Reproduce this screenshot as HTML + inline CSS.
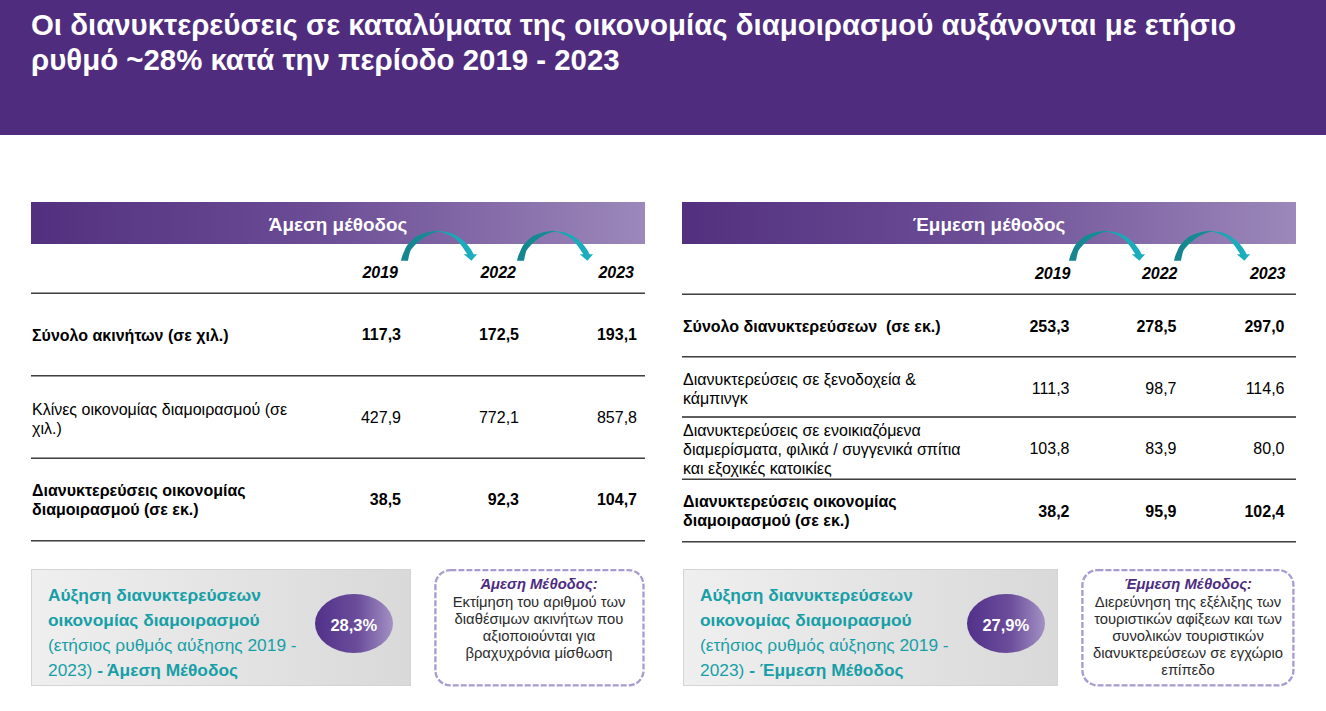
<!DOCTYPE html>
<html><head><meta charset="utf-8">
<style>
*{margin:0;padding:0;box-sizing:border-box}
html,body{width:1326px;height:711px;overflow:hidden;background:#fff}
body{position:relative;font-family:"Liberation Sans",sans-serif;color:#000}
.a{position:absolute;white-space:nowrap}
#hdr{position:absolute;left:0;top:0;width:1326px;height:135px;background:#502c7e}
.title{left:31px;color:#fff;font-weight:bold;font-size:29.4px;line-height:34.5px}
.bar{position:absolute;top:202px;height:42px;background:linear-gradient(to right,#52307f 0%,#6a4b94 45%,#9c88ba 100%)}
.bart{position:absolute;top:1.5px;width:100%;text-align:center;color:#fff;font-weight:bold;font-size:18.9px;line-height:42px}
.hr{position:absolute;height:2px;background:linear-gradient(#404040 50%,#9a9a9a 50%)}
.hu{background:linear-gradient(#9a9a9a 50%,#404040 50%)}
.hm{background:#5e5e5e}
.yr{font-weight:bold;font-style:italic;font-size:16px}
.t16{font-size:16px;line-height:19px}
.b{font-weight:bold}
.num{font-size:16px}
.gbox{position:absolute;top:569px;height:116.5px;background:linear-gradient(to right,#efefef,#d9d9d9);border:1px solid #d4d4d4}
.teal{color:#179fa7;font-size:17.33px;line-height:25px}
.ell{position:absolute;top:594px;width:78px;height:59px;border-radius:50%;background:linear-gradient(to right,#52318a,#6b4d9b 55%,#a391c4);color:#fff;font-weight:bold;font-size:16.5px;text-align:center;line-height:62px}
.dbox{position:absolute;top:569px;height:117px}
.dt{position:absolute;left:0;width:100%;text-align:center;font-size:14.8px;line-height:17px;color:#2b2b2b}
.dt .h{color:#4d2c80;font-weight:bold;font-style:italic;position:relative;top:-1px}
</style></head><body>
<div id="hdr"></div>
<div class="a title" style="top:8px">Οι διανυκτερεύσεις σε καταλύματα της οικονομίας διαμοιρασμού αυξάνονται με ετήσιο<br>ρυθμό ~28% κατά την περίοδο 2019 - 2023</div>

<!-- LEFT PANEL -->
<div class="bar" style="left:31px;width:614px"><div class="bart">Άμεση μέθοδος</div></div>

<div class="a yr" style="left:0;width:398px;text-align:right;top:264px">2019</div>
<div class="a yr" style="left:0;width:516px;text-align:right;top:264px">2022</div>
<div class="a yr" style="left:0;width:634px;text-align:right;top:264px">2023</div>
<div class="hr hu" style="left:31px;width:614px;top:292px"></div>

<div class="a t16 b" style="left:32px;top:326px">Σύνολο ακινήτων (σε χιλ.)</div>
<div class="a t16 b num" style="left:0;width:401px;text-align:right;top:325px">117,3</div>
<div class="a t16 b num" style="left:0;width:519px;text-align:right;top:325px">172,5</div>
<div class="a t16 b num" style="left:0;width:637px;text-align:right;top:325px">193,1</div>
<div class="hr" style="left:31px;width:614px;top:375px"></div>

<div class="a t16" style="left:32px;top:400px">Κλίνες οικονομίας διαμοιρασμού (σε<br>χιλ.)</div>
<div class="a t16 num" style="left:0;width:401px;text-align:right;top:408px">427,9</div>
<div class="a t16 num" style="left:0;width:519px;text-align:right;top:408px">772,1</div>
<div class="a t16 num" style="left:0;width:637px;text-align:right;top:408px">857,8</div>
<div class="hr hu" style="left:31px;width:614px;top:457px"></div>

<div class="a t16 b" style="left:32px;top:481px">Διανυκτερεύσεις οικονομίας<br>διαμοιρασμού (σε εκ.)</div>
<div class="a t16 b num" style="left:0;width:401px;text-align:right;top:489.5px">38,5</div>
<div class="a t16 b num" style="left:0;width:519px;text-align:right;top:489.5px">92,3</div>
<div class="a t16 b num" style="left:0;width:637px;text-align:right;top:489.5px">104,7</div>
<div class="hr" style="left:31px;width:614px;top:540px"></div>

<div class="gbox" style="left:31px;width:380px"></div>
<div class="a teal" style="left:48px;top:583px"><b>Αύξηση διανυκτερεύσεων<br>οικονομίας διαμοιρασμού</b><br>(ετήσιος ρυθμός αύξησης 2019 -<br>2023) <b>- Άμεση Μέθοδος</b></div>
<div class="ell" style="left:314.8px">28,3%</div>
<div class="dbox" style="left:434px;width:210px"><div class="dt" style="top:8px"><span class="h">Άμεση Μέθοδος:</span><br>Εκτίμηση του αριθμού των<br>διαθέσιμων ακινήτων που<br>αξιοποιούνται για<br>βραχυχρόνια μίσθωση</div></div>

<!-- RIGHT PANEL -->
<div class="bar" style="left:682px;width:614px"><div class="bart">Έμμεση μέθοδος</div></div>
<div class="a yr" style="left:0;width:1070.5px;text-align:right;top:264.5px">2019</div>
<div class="a yr" style="left:0;width:1177.5px;text-align:right;top:264.5px">2022</div>
<div class="a yr" style="left:0;width:1285.5px;text-align:right;top:264.5px">2023</div>
<div class="hr hu" style="left:682px;width:614px;top:293px"></div>

<div class="a t16 b" style="left:683px;top:317px">Σύνολο διανυκτερεύσεων&nbsp; (σε εκ.)</div>
<div class="a t16 b num" style="left:0;width:1069.5px;text-align:right;top:317px">253,3</div>
<div class="a t16 b num" style="left:0;width:1176.5px;text-align:right;top:317px">278,5</div>
<div class="a t16 b num" style="left:0;width:1284.5px;text-align:right;top:317px">297,0</div>
<div class="hr" style="left:682px;width:614px;top:356px"></div>

<div class="a t16" style="left:683px;top:370px">Διανυκτερεύσεις σε ξενοδοχεία &amp;<br>κάμπινγκ</div>
<div class="a t16 num" style="left:0;width:1069.5px;text-align:right;top:379px">111,3</div>
<div class="a t16 num" style="left:0;width:1176.5px;text-align:right;top:379px">98,7</div>
<div class="a t16 num" style="left:0;width:1284.5px;text-align:right;top:379px">114,6</div>
<div class="hr hm" style="left:682px;width:614px;top:416px"></div>

<div class="a t16" style="left:683px;top:420.5px">Διανυκτερεύσεις σε ενοικιαζόμενα<br>διαμερίσματα, φιλικά / συγγενικά σπίτια<br>και εξοχικές κατοικίες</div>
<div class="a t16 num" style="left:0;width:1069.5px;text-align:right;top:439px">103,8</div>
<div class="a t16 num" style="left:0;width:1176.5px;text-align:right;top:439px">83,9</div>
<div class="a t16 num" style="left:0;width:1284.5px;text-align:right;top:439px">80,0</div>
<div class="hr hu" style="left:682px;width:614px;top:478px"></div>

<div class="a t16 b" style="left:683px;top:492px">Διανυκτερεύσεις οικονομίας<br>διαμοιρασμού (σε εκ.)</div>
<div class="a t16 b num" style="left:0;width:1069.5px;text-align:right;top:501.5px">38,2</div>
<div class="a t16 b num" style="left:0;width:1176.5px;text-align:right;top:501.5px">95,9</div>
<div class="a t16 b num" style="left:0;width:1284.5px;text-align:right;top:501.5px">102,4</div>
<div class="hr" style="left:682px;width:614px;top:541px"></div>

<div class="gbox" style="left:683px;width:375px"></div>
<div class="a teal" style="left:700px;top:583px"><b>Αύξηση διανυκτερεύσεων<br>οικονομίας διαμοιρασμού</b><br>(ετήσιος ρυθμός αύξησης 2019 -<br>2023) <b>- Έμμεση Μέθοδος</b></div>
<div class="ell" style="left:966.8px">27,9%</div>
<div class="dbox" style="left:1081px;width:214px"><div class="dt" style="top:8px"><span class="h">Έμμεση Μέθοδος:</span><br>Διερεύνηση της εξέλιξης των<br>τουριστικών αφίξεων και των<br>συνολικών τουριστικών<br>διανυκτερεύσεων σε εγχώριο<br>επίπεδο</div></div>
<svg class="a" style="left:0;top:0" width="1326" height="300">
<defs><linearGradient id="tg" gradientUnits="userSpaceOnUse" x1="0" x2="76" y1="0" y2="0"><stop offset="0" stop-color="#15858f"/><stop offset="0.44" stop-color="#178c96"/><stop offset="0.52" stop-color="#19a3b1"/><stop offset="1" stop-color="#1cb0c0"/></linearGradient><path id="arr" fill="url(#tg)" d="M0.00,30.70 C0.20,29.92 0.67,27.58 1.20,26.00 C1.73,24.42 2.40,22.95 3.20,21.20 C4.00,19.45 4.87,17.20 6.00,15.50 C7.13,13.80 8.58,12.42 10.00,11.00 C11.42,9.58 12.83,8.13 14.50,7.00 C16.17,5.87 18.00,5.00 20.00,4.20 C22.00,3.40 24.22,2.72 26.50,2.20 C28.78,1.68 31.95,1.32 33.70,1.10 C35.45,0.88 35.45,0.82 37.00,0.90 C38.55,0.98 40.72,1.17 43.00,1.60 C45.28,2.03 48.53,2.77 50.70,3.50 C52.87,4.23 54.30,4.98 56.00,6.00 C57.70,7.02 59.42,8.43 60.90,9.60 C62.38,10.77 63.68,11.77 64.90,13.00 C66.12,14.23 67.25,15.75 68.20,17.00 C69.15,18.25 69.87,19.30 70.60,20.50 C71.33,21.70 72.27,23.58 72.60,24.20 L76.10,24.20 L70.40,30.70 L62.80,24.20 L66.30,24.20 C65.85,23.53 64.75,21.85 63.60,20.20 C62.45,18.55 61.07,16.28 59.40,14.30 C57.73,12.32 55.73,9.92 53.60,8.30 C51.47,6.68 48.78,5.60 46.60,4.60 C44.42,3.60 42.43,2.70 40.50,2.30 C38.57,1.90 36.92,1.85 35.00,2.20 C33.08,2.55 30.92,3.57 29.00,4.40 C27.08,5.23 25.77,5.65 23.50,7.20 C21.23,8.75 17.65,11.60 15.40,13.70 C13.15,15.80 11.20,17.92 10.00,19.80 C8.80,21.68 8.70,23.18 8.20,25.00 C7.70,26.82 7.20,29.75 7.00,30.70 Z"/></defs>
<g transform="translate(401,230)"><use href="#arr"/></g>
<g transform="translate(517,230)"><use href="#arr"/></g>
<g transform="translate(1069,230)"><use href="#arr"/></g>
<g transform="translate(1174,230)"><use href="#arr"/></g>
</svg>
<svg class="a" style="left:0;top:560px" width="1326" height="140">
<rect x="435.4" y="10.1" width="208.1" height="115.3" rx="15" ry="15" fill="none" stroke="#a89bd0" stroke-width="2.3" stroke-dasharray="6 2"/>
<rect x="1082.4" y="10.1" width="211" height="115.3" rx="15" ry="15" fill="none" stroke="#a89bd0" stroke-width="2.3" stroke-dasharray="6 2"/>
</svg>
</body></html>
